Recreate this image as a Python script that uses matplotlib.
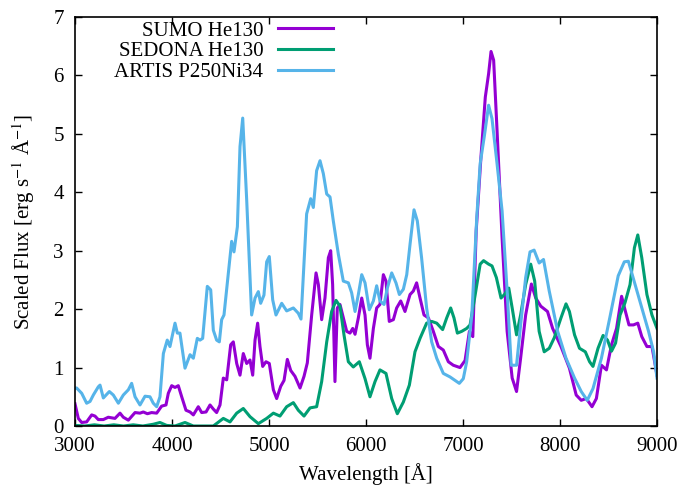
import numpy as np
import matplotlib
matplotlib.use("Agg")
import matplotlib.pyplot as plt

plt.rcParams['font.family'] = ['Liberation Serif', 'DejaVu Serif']
plt.rcParams['mathtext.fontset'] = 'stix'
plt.rcParams['font.size'] = 15

# SUMO He130
sumo_wl = [3000, 3034, 3069, 3120, 3172, 3206, 3240, 3292, 3343, 3412, 3464, 3498, 3550, 3619,
           3670, 3704, 3746, 3790, 3842, 3893, 3938, 3962, 3997, 4031, 4065, 4100, 4144, 4186,
           4220, 4271, 4306, 4351, 4392, 4426, 4460, 4495, 4529, 4564, 4605, 4632, 4667, 4701,
           4735, 4770, 4804, 4832, 4856, 4883, 4907, 4935, 4969, 5003, 5045, 5079, 5121, 5155,
           5189, 5224, 5268, 5320, 5361, 5395, 5440, 5485, 5509, 5543, 5577, 5612, 5636, 5656,
           5680, 5704, 5732, 5766, 5801, 5835, 5863, 5887, 5921, 5956, 5990, 6014, 6041, 6076,
           6110, 6144, 6179, 6206, 6240, 6282, 6316, 6358, 6402, 6454, 6488, 6522, 6557, 6598,
           6643, 6694, 6746, 6797, 6849, 6900, 6969, 7021, 7066, 7101, 7136, 7185, 7230, 7264,
           7289, 7316, 7351, 7403, 7455, 7507, 7552, 7594, 7646, 7705, 7750, 7802, 7871, 7924,
           8010, 8097, 8167, 8219, 8271, 8330, 8375, 8427, 8479, 8531, 8583, 8635, 8670, 8711,
           8757, 8802, 8843, 8896, 8948, 9000]
sumo_flux = [0.38, 0.13, 0.06, 0.07, 0.19, 0.17, 0.11, 0.11, 0.15, 0.13, 0.22, 0.15, 0.10, 0.23,
             0.22, 0.24, 0.21, 0.23, 0.22, 0.34, 0.36, 0.56, 0.69, 0.66, 0.69, 0.50, 0.27, 0.24,
             0.19, 0.33, 0.23, 0.24, 0.36, 0.29, 0.23, 0.36, 0.82, 0.79, 1.39, 1.44, 1.07, 0.87,
             1.24, 1.07, 1.13, 0.87, 1.47, 1.76, 1.36, 1.02, 1.10, 1.07, 0.62, 0.47, 0.68, 0.78,
             1.14, 0.95, 0.85, 0.65, 0.85, 1.08, 1.90, 2.62, 2.42, 1.82, 2.19, 2.88, 3.00, 2.42,
             0.76, 2.02, 2.08, 1.85, 1.62, 1.59, 1.67, 1.57, 1.85, 2.19, 1.90, 1.39, 1.16, 1.67,
             2.02, 2.08, 2.59, 2.48, 1.79, 1.82, 2.02, 2.14, 1.96, 2.25, 2.31, 2.45, 2.19, 1.90,
             1.85, 1.62, 1.36, 1.30, 1.10, 1.04, 1.00, 1.12, 1.62, 1.53, 3.34, 4.60, 5.63, 6.03,
             6.41, 6.26, 5.06, 3.22, 1.62, 0.82, 0.59, 1.16, 1.90, 2.43, 2.19, 2.05, 1.96, 1.67,
             1.36, 0.99, 0.53, 0.44, 0.47, 0.33, 0.47, 1.04, 0.96, 1.39, 1.67, 2.22, 1.99, 1.73,
             1.73, 1.76, 1.53, 1.36, 1.36, 0.87]

# SEDONA He130
sedona_wl = [3000, 3100, 3200, 3300, 3400, 3500, 3600, 3700, 3807, 3876, 3945, 4031, 4134, 4220,
             4320, 4426, 4529, 4598, 4667, 4735, 4804, 4890, 4976, 5045, 5113, 5182, 5251, 5302,
             5361, 5423, 5491, 5543, 5595, 5646, 5691, 5732, 5773, 5818, 5869, 5931, 5990, 6041,
             6093, 6144, 6206, 6265, 6323, 6385, 6447, 6505, 6557, 6625, 6677, 6729, 6790, 6832,
             6873, 6907, 6942, 6987, 7038, 7073, 7126, 7177, 7212, 7264, 7299, 7344, 7392, 7427,
             7472, 7507, 7552, 7594, 7646, 7698, 7739, 7785, 7837, 7889, 7941, 8010, 8062, 8097,
             8150, 8201, 8261, 8305, 8340, 8392, 8444, 8490, 8531, 8573, 8619, 8670, 8722, 8767,
             8802, 8843, 8896, 8948, 9000]
sedona_flux = [0.01, 0.00, 0.02, 0.00, 0.02, 0.00, 0.02, 0.00, 0.03, 0.06, 0.01, 0.00, 0.06, 0.00,
               0.00, 0.00, 0.13, 0.07, 0.22, 0.30, 0.16, 0.04, 0.13, 0.22, 0.17, 0.33, 0.40, 0.27,
               0.17, 0.31, 0.33, 0.76, 1.44, 1.96, 2.15, 2.05, 1.56, 1.10, 1.01, 1.10, 0.81, 0.50,
               0.76, 0.96, 0.90, 0.47, 0.21, 0.41, 0.70, 1.27, 1.50, 1.76, 1.79, 1.76, 1.65, 1.85,
               2.02, 1.85, 1.59, 1.62, 1.67, 1.73, 2.25, 2.77, 2.83, 2.77, 2.74, 2.54, 2.19, 2.25,
               2.36, 2.02, 1.56, 1.90, 2.42, 2.77, 2.48, 1.62, 1.27, 1.33, 1.51, 1.85, 2.09, 1.96,
               1.56, 1.33, 1.27, 1.10, 1.02, 1.33, 1.55, 1.47, 1.28, 1.42, 1.90, 2.11, 2.42, 3.05,
               3.27, 2.88, 2.25, 1.90, 1.67]

# ARTIS P250Ni34
artis_wl = [3000, 3017, 3069, 3120, 3155, 3189, 3240, 3258, 3292, 3354, 3395, 3447, 3498, 3550,
            3584, 3619, 3670, 3722, 3773, 3807, 3842, 3876, 3911, 3951, 3979, 4031, 4055, 4082,
            4134, 4186, 4220, 4261, 4289, 4316, 4364, 4399, 4426, 4460, 4488, 4512, 4536, 4581,
            4615, 4639, 4674, 4701, 4729, 4770, 4821, 4856, 4890, 4914, 4948, 4976, 5003, 5038,
            5072, 5131, 5182, 5251, 5302, 5330, 5388, 5430, 5457, 5491, 5526, 5560, 5595, 5629,
            5663, 5715, 5766, 5818, 5852, 5887, 5921, 5956, 5990, 6034, 6076, 6110, 6144, 6186,
            6220, 6265, 6309, 6344, 6385, 6420, 6454, 6495, 6529, 6573, 6625, 6677, 6729, 6797,
            6866, 6918, 6962, 7003, 7038, 7091, 7142, 7177, 7219, 7264, 7299, 7351, 7403, 7455,
            7497, 7552, 7594, 7646, 7691, 7733, 7785, 7830, 7889, 7976, 8062, 8150, 8219, 8281,
            8340, 8427, 8513, 8600, 8663, 8705, 8774, 8843, 8913, 8965, 9000]
artis_flux = [0.65, 0.65, 0.56, 0.39, 0.42, 0.53, 0.67, 0.70, 0.48, 0.59, 0.53, 0.39, 0.53, 0.62,
              0.73, 0.50, 0.36, 0.51, 0.50, 0.39, 0.33, 0.50, 1.24, 1.47, 1.36, 1.76, 1.59, 1.59,
              0.99, 1.22, 1.16, 1.50, 1.47, 1.50, 2.39, 2.33, 1.64, 1.47, 1.44, 1.82, 1.90, 2.61,
              3.16, 2.98, 3.41, 4.78, 5.27, 3.87, 1.90, 2.19, 2.30, 2.10, 2.24, 2.81, 2.90, 2.16,
              1.90, 2.10, 1.97, 2.02, 1.93, 1.83, 3.63, 3.89, 3.74, 4.37, 4.54, 4.32, 3.97, 3.92,
              3.51, 2.94, 2.48, 2.45, 2.28, 1.96, 2.25, 2.59, 2.45, 1.99, 2.14, 2.40, 2.14, 2.08,
              2.36, 2.62, 2.45, 2.25, 2.34, 2.59, 3.11, 3.70, 3.51, 2.88, 2.02, 1.44, 1.16, 0.90,
              0.84, 0.78, 0.73, 0.81, 1.10, 1.90, 3.57, 4.49, 4.95, 5.49, 5.26, 4.49, 3.68, 2.31,
              1.04, 1.04, 1.73, 2.54, 2.98, 3.01, 2.79, 2.85, 2.31, 1.62, 1.16, 0.82, 0.59, 0.44,
              0.64, 1.16, 1.85, 2.57, 2.81, 2.82, 2.42, 2.02, 1.62, 1.27, 0.82]

labels = ["SUMO He130", "SEDONA He130", "ARTIS P250Ni34"]
colors = ["#9400d3", "#009e73", "#56b4e9"]

fig = plt.figure(figsize=(6.89, 4.90), dpi=100)
ax = fig.add_axes([75/689, 1 - 426/490, (657 - 75)/689, (426 - 17)/490])

for wl, fl, lab, c in zip([sumo_wl, sedona_wl, artis_wl],
                          [sumo_flux, sedona_flux, artis_flux], labels, colors):
    ax.plot(wl, fl, color=c, lw=2.2, label=lab)

ax.set_xlim(3000, 9000)
ax.set_ylim(0, 7)
ax.set_xticks(np.arange(3000, 9001, 1000))
ax.set_yticks(np.arange(0, 8, 1))
ax.tick_params(direction='in', top=True, right=True, length=5, width=1, pad=8)
for s in ax.spines.values():
    s.set_linewidth(1.2)

ax.set_xlabel("Wavelength [Å]", labelpad=5)
ax.set_ylabel("Scaled Flux [erg s$^{-1}$ Å$^{-1}$]", labelpad=12)

ax.legend(loc='upper right', bbox_to_anchor=(333/689, 0.957), bbox_transform=fig.transFigure,
          frameon=False, markerfirst=False, handlelength=2.65, handletextpad=0.7,
          labelspacing=0.05, borderpad=0, borderaxespad=0)

fig.savefig("out.png", dpi=100)
